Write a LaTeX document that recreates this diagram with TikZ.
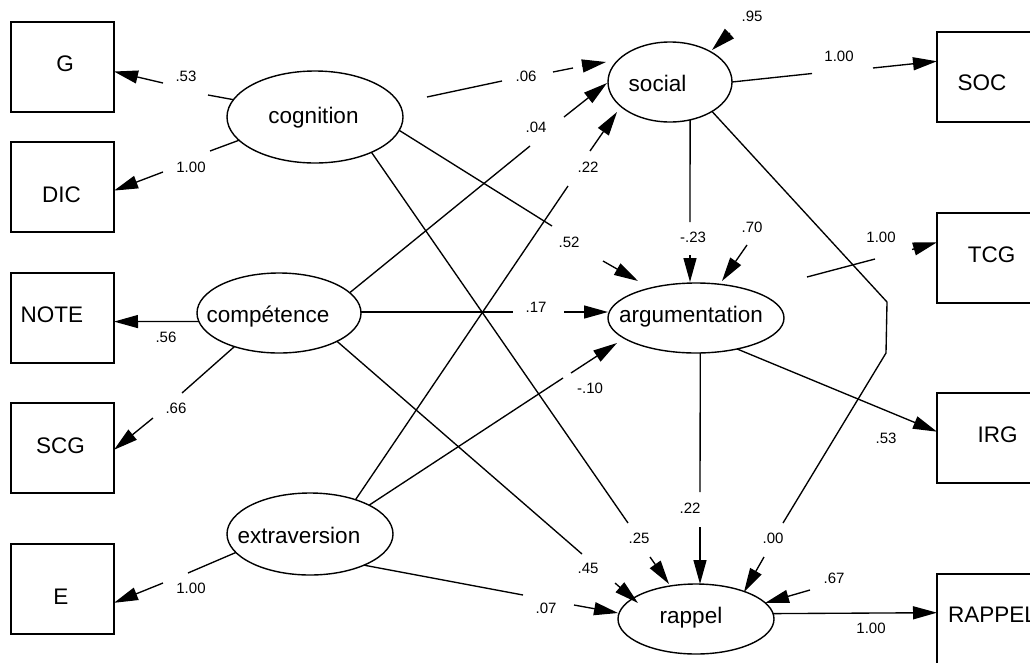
\documentclass[tikz,border=0pt]{standalone}
\usepackage{fontspec}
\setmainfont{Liberation Sans}
\usetikzlibrary{arrows.meta,shapes.geometric}
\begin{document}
\begin{tikzpicture}[x=1pt,y=-1pt,
  box/.style={draw,line width=1.4pt,minimum width=103pt,minimum height=90pt,inner sep=0pt,outer sep=0pt},
  lat/.style={draw,ellipse,line width=1.4pt,inner sep=0pt,outer sep=0pt},
  vname/.style={font=\fontsize{22.5}{24}\selectfont,inner sep=0pt,anchor=base},
  coef/.style={font=\fontsize{15}{16}\selectfont,inner sep=0pt},
  edge/.style={line width=1.35pt},
  arr/.style={line width=1.35pt,-{Triangle[length=24pt,width=13pt]}}]
\useasboundingbox (0,0) rectangle (1030,662);

% latent variables
\node[lat,minimum width=176pt,minimum height=92pt] (cog) at (315,117) {};
\node[lat,minimum width=164pt,minimum height=80pt] (comp) at (279,313) {};
\node[lat,minimum width=166pt,minimum height=82pt] (ext) at (310,534) {};
\node[lat,minimum width=124pt,minimum height=80pt] (soc) at (670,82) {};
\node[lat,minimum width=176pt,minimum height=70pt] (arg) at (696,318) {};
\node[lat,minimum width=156pt,minimum height=70pt] (rap) at (696,619) {};
\node[vname] (tcog) at (313.5,123) {cognition};
\node[vname] (tcomp) at (268,322) {compétence};
\node[vname] (text) at (299,543) {extraversion};
\node[vname] (tsoc) at (657.5,91) {social};
\node[vname] (targ) at (691,322) {argumentation};
\node[vname] (trap) at (691,623) {rappel};

% observed variables
\node[box] (G) at (62.5,67) {};
\node[box] (DIC) at (62.5,187) {};
\node[box] (NOTE) at (62.5,318) {};
\node[box] (SCG) at (62.5,448) {};
\node[box] (E) at (62.5,589) {};
\node[box] (SOC) at (988.5,77) {};
\node[box] (TCG) at (988.5,258) {};
\node[box] (IRG) at (988.5,438) {};
\node[box] (RAP) at (988.5,619) {};
\node[vname] (tG) at (65,71) {G};
\node[vname] (tDIC) at (61.5,202) {DIC};
\node[vname] (tNOTE) at (52,322.3) {NOTE};
\node[vname] (tSCG) at (60.5,453.3) {SCG};
\node[vname] (tE) at (61,604.3) {E};
\node[vname] (tSOC) at (982,90.7) {SOC};
\node[vname] (tTCG) at (991.5,262.3) {TCG};
\node[vname] (tIRG) at (997.5,442.7) {IRG};
\node[vname,anchor=base west] (tRAP) at (948,622.7) {RAPPEL};

% coordinates (gaps, bends, arrow tips)
\coordinate (g53a) at (208,95);   \coordinate (g53b) at (163,83);
\coordinate (gDa) at (210,151);   \coordinate (gDb) at (163,172);
\coordinate (cs1) at (427,97);    \coordinate (cs2) at (502,81);
\coordinate (cs3) at (553,72);    \coordinate (cs4) at (573,68);
\coordinate (cs5) at (582,66);    \coordinate (t06) at (606,62);
\coordinate (g04a) at (530,146);  \coordinate (g04b) at (564,117); \coordinate (t04) at (607,83);
\coordinate (g22a) at (568,186);  \coordinate (g22b) at (590,151); \coordinate (t22s) at (617,112);
\coordinate (e95) at (730,33);    \coordinate (t95) at (712,50);
\coordinate (gSa) at (812,73.5);  \coordinate (gSb) at (873,68);
\coordinate (g23a) at (690,222);  \coordinate (g23b) at (690,255); \coordinate (t23) at (690,282);
\coordinate (e70) at (747,245);   \coordinate (t70) at (722,281);
\coordinate (b1) at (887,302);    \coordinate (b2) at (886,353);
\coordinate (g00a) at (783,523);  \coordinate (g00b) at (764,557); \coordinate (t00) at (744,592);
\coordinate (g52a) at (552,226);  \coordinate (g52b) at (603,261); \coordinate (t52) at (638,281);
\coordinate (g25a) at (628,523);  \coordinate (g25b) at (650,557); \coordinate (t25) at (669,584);
\coordinate (g17a) at (513,312);  \coordinate (g17b) at (564,312); \coordinate (t17) at (608,312);
\coordinate (g66a) at (182,393);  \coordinate (g66b) at (153,418);
\coordinate (g45a) at (582,554);  \coordinate (g45b) at (615,583); \coordinate (t45) at (638,603);
\coordinate (g10a) at (563,378);  \coordinate (g10b) at (571,373); \coordinate (t10) at (617,343);
\coordinate (g07a) at (523,595);  \coordinate (g07b) at (574,605); \coordinate (t07) at (618,613);
\coordinate (gEa) at (188,573);   \coordinate (gEb) at (163,583);
\coordinate (a1) at (807,277);    \coordinate (a2) at (875,259);   \coordinate (a3) at (912,249.5);
\coordinate (g22ra) at (700,492); \coordinate (g22rb) at (700,527); \coordinate (t22r) at (700,584);
\coordinate (e67) at (810,590);   \coordinate (t67) at (765,603);

% cognition
\draw[edge] (cog.168.8) -- (g53a);  \draw[arr] (g53b) -- (G.-5.5);
\draw[edge] (cog.197.5) -- (gDa);   \draw[arr] (gDb) -- (DIC.-4.4);
\draw[edge] (cs1) -- (cs2); \draw[edge] (cs3) -- (cs4); \draw[arr] (cs5) -- (t06);
\draw[edge] (cog.-9.8) -- (g52a);   \draw[arr] (g52b) -- (t52);
\draw[edge] (cog.-32) -- (g25a);    \draw[arr] (g25b) -- (t25);
% competence
\draw[arr] (comp.186.3) -- (NOTE.-4.4);
\draw[edge] (comp.217.4) -- (g66a); \draw[arr] (g66b) -- (SCG.-2.2);
\draw[edge] (comp.16.5) -- (g04a);  \draw[arr] (g04b) -- (t04);
\draw[edge] (comp.east |- g17a) -- (g17a); \draw[arr] (g17b) -- (t17);
\draw[edge] (comp.-26.6) -- (g45a); \draw[arr] (g45b) -- (t45);
% extraversion
\draw[edge] (ext.194.8) -- (gEa);   \draw[arr] (gEb) -- (E.-15.2);
\draw[edge] (ext.37.3) -- (g22a);   \draw[arr] (g22b) -- (t22s);
\draw[edge] (ext.26.9) -- (g10a);   \draw[arr] (g10b) -- (t10);
\draw[edge] (ext.-30.1) -- (g07a);  \draw[arr] (g07b) -- (t07);
% social
\draw[arr] (e95) -- (t95);
\draw[edge] (soc.east) -- (gSa);    \draw[arr] (gSb) -- (SOC.163.8);
\draw[edge] (soc.-62.9) -- (g23a);  \draw[arr] (g23b) -- (t23);
\draw[edge] (soc.-35.5) -- (b1) -- (b2) -- (g00a); \draw[arr] (g00b) -- (t00);
% argumentation
\draw[arr] (e70) -- (t70);
\draw[edge] (a1) -- (a2); \draw[arr] (a3) -- (TCG.163.8);
\draw[arr] (arg.-37.9) -- (IRG.173.4);
\draw[edge] (arg.-83.5) -- (g22ra); \draw[arr] (g22rb) -- (t22r);
% rappel
\draw[arr] (e67) -- (t67);
\draw[arr] (rap.4.5) -- (RAP.173.4);

% coefficients
\node[coef] (l1) at (186,76) {.53};
\node[coef] (l2) at (191,167) {1.00};
\node[coef] (l3) at (526,76) {.06};
\node[coef] (l4) at (536,127) {.04};
\node[coef] (l5) at (588,167) {.22};
\node[coef] (l6) at (752,16) {.95};
\node[coef] (l7) at (839,56) {1.00};
\node[coef] (l8) at (166,337) {.56};
\node[coef] (l9) at (536,307) {.17};
\node[coef] (l10) at (569,242) {.52};
\node[coef] (l11) at (693,237) {-.23};
\node[coef] (l12) at (752,227) {.70};
\node[coef] (l13) at (881,237) {1.00};
\node[coef] (l14) at (176,408) {.66};
\node[coef] (l15) at (590,388) {-.10};
\node[coef] (l16) at (886,438) {.53};
\node[coef] (l17) at (639,538) {.25};
\node[coef] (l18) at (690,508) {.22};
\node[coef] (l19) at (773,538) {.00};
\node[coef] (l20) at (588,568) {.45};
\node[coef] (l21) at (834,578) {.67};
\node[coef] (l22) at (546,608) {.07};
\node[coef] (l23) at (871,628) {1.00};
\node[coef] (l24) at (191,588) {1.00};
\end{tikzpicture}
\end{document}
